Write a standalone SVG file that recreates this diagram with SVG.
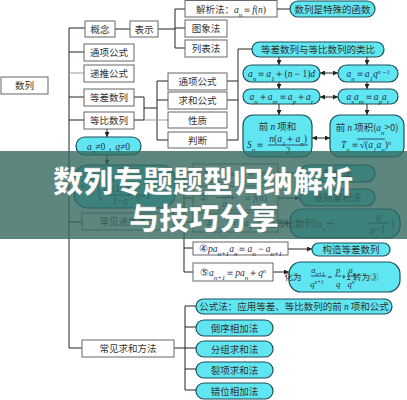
<svg xmlns="http://www.w3.org/2000/svg" width="407" height="400" viewBox="0 0 407 400">
<style>
.box{fill:#fff;stroke:#666;stroke-width:1}
.pill{fill:#60e6f0;stroke:#1d4f5a;stroke-width:1.2}
.ln{stroke:#222;stroke-width:1;fill:none}
.lg{stroke:#999;stroke-width:1;fill:none}
.t{font-family:"Noto Sans CJK SC","Noto Sans",sans-serif;font-size:9.5px;fill:#333;text-anchor:middle}
.s{font-size:8.5px}
.m{font-family:"Liberation Serif",serif;font-style:italic;fill:#1e2e55}
.r{font-family:"Liberation Serif",serif;font-style:normal}
.fl{stroke:#1e2e55;stroke-width:0.8}
.title{font-family:"Noto Sans CJK SC",sans-serif;font-weight:900;font-size:30px;fill:#fff;text-anchor:middle}
</style>
<defs>
<marker id="ah" viewBox="0 0 6 6" refX="6" refY="3" markerWidth="5" markerHeight="5" orient="auto-start-reverse"><path d="M0,0 L6,3 L0,6 z" fill="#222"/></marker>
</defs>
<rect width="407" height="400" fill="#fff"/>

<g id="connectors">
<path class="ln" d="M69,28 V348 M69,28 H85 M69,52 H84 M69,97 H84 M69,120 H84 M69,222 H82 M69,348 H82"/>
<path class="lg" d="M69,73 H84"/>
<path class="ln" d="M115,29 H130 M158,29 H175 M175,9 V48 M175,9 H185 M175,28 H185 M175,48 H185 M277,9 H290"/>
<path class="ln" d="M134,97 H144 V120 H134 M144,108 H157 M157,81 V140 M157,81 H168 M157,100 H168 M157,140 H168"/>
<path class="lg" d="M144,120 H168"/>
<path class="ln" d="M227,81 H238 M227,100 H238 M227,140 H238 M238,49 V140 M238,49 H252"/>
<path class="ln" marker-end="url(#ah)" d="M279,57 V65"/>
<path class="ln" marker-end="url(#ah)" d="M367,57 V65"/>
<path class="ln" marker-end="url(#ah)" d="M279,82 V89"/>
<path class="ln" marker-end="url(#ah)" d="M367,82 V89"/>
<path class="ln" marker-end="url(#ah)" d="M279,104 V115"/>
<path class="ln" marker-end="url(#ah)" d="M367,104 V115"/>
<path class="ln" marker-start="url(#ah)" marker-end="url(#ah)" d="M320,73 H338"/>
<path class="ln" marker-start="url(#ah)" marker-end="url(#ah)" d="M320,97 H338"/>
<path class="ln" marker-start="url(#ah)" marker-end="url(#ah)" d="M312,138 H330"/>
<path class="ln" marker-end="url(#ah)" d="M107,129 V137"/>
<path class="ln" marker-end="url(#ah)" d="M107,155 V165"/>
<path class="ln" d="M174,222 H184 M184,173 V272 M184,173 H193 M184,198 H193 M184,222 H193 M184,248 H193 M184,272 H193"/>
<path class="ln" marker-end="url(#ah)" d="M278,173 H300"/>
<path class="ln" marker-end="url(#ah)" d="M278,198 H300"/>
<path class="ln" marker-end="url(#ah)" d="M278,223 H290"/>
<path class="ln" marker-end="url(#ah)" d="M288,249 H312"/>
<path class="ln" marker-end="url(#ah)" d="M273,272 H289"/>
<path class="ln" d="M174,348 H185 M185,306 V390 M185,306 H196 M185,327 H196 M185,348 H196 M185,369 H196 M185,390 H196"/>
</g>

<g id="n-shulie"><rect class="box" x="1" y="77" width="47" height="17"/><text class="t" x="24.5" y="89">数列</text></g>
<g id="n-gainian"><rect class="box" x="85" y="21" width="30" height="16"/><text class="t" x="100" y="32.5">概念</text></g>
<g id="n-biaoshi"><rect class="box" x="130" y="21" width="28" height="16"/><text class="t" x="144" y="32.5">表示</text></g>
<g id="n-jiexi"><rect class="box" x="185" y="0.5" width="92" height="16.5"/><text class="t" x="231" y="12.5">解析法：<tspan class="m">a<tspan baseline-shift="sub" font-size="7">n</tspan></tspan><tspan class="r">＝</tspan><tspan class="m">f</tspan><tspan class="r">(</tspan><tspan class="m">n</tspan><tspan class="r">)</tspan></text></g>
<g id="n-hanshu"><rect class="pill" x="290" y="1" width="85" height="16" rx="8"/><text class="t" x="332.5" y="12.5">数列是特殊的函数</text></g>
<g id="n-tuxiang"><rect class="box" x="185" y="20" width="42" height="17"/><text class="t" x="206" y="32">图象法</text></g>
<g id="n-liebiao"><rect class="box" x="185" y="40" width="42" height="17"/><text class="t" x="206" y="52">列表法</text></g>
<g id="n-tongxiang"><rect class="box" x="84" y="44" width="50" height="17"/><text class="t" x="109" y="56">通项公式</text></g>
<g id="n-ditui"><rect class="box" x="84" y="65" width="50" height="17"/><text class="t" x="109" y="77">递推公式</text></g>
<g id="n-dengcha"><rect class="box" x="84" y="89" width="50" height="17"/><text class="t" x="109" y="101">等差数列</text></g>
<g id="n-dengbi"><rect class="box" x="84" y="112" width="50" height="17"/><text class="t" x="109" y="124">等比数列</text></g>
<g id="n-tongxiang2"><rect class="box" x="168" y="73" width="59" height="17"/><text class="t" x="197.5" y="85">通项公式</text></g>
<g id="n-qiuhe"><rect class="box" x="168" y="92" width="59" height="17"/><text class="t" x="197.5" y="104">求和公式</text></g>
<g id="n-xingzhi"><rect class="box" x="168" y="112" width="59" height="16"/><text class="t" x="197.5" y="123.5">性质</text></g>
<g id="n-panduan"><rect class="box" x="168" y="132" width="59" height="16"/><text class="t" x="197.5" y="143.5">判断</text></g>

<g id="n-leibi"><rect class="pill" x="252" y="42" width="132" height="15" rx="7.5"/><text class="t" x="318" y="53">等差数列与等比数列的类比</text></g>
<g id="n-an1"><rect class="pill" x="243" y="65" width="77" height="17" rx="8.5"/><text class="t m" x="281.5" y="77">a<tspan baseline-shift="sub" font-size="7">n</tspan><tspan class="r">＝</tspan>a<tspan baseline-shift="sub" font-size="7">1</tspan><tspan class="r">＋(</tspan>n<tspan class="r">－1)</tspan>d</text></g>
<g id="n-an2"><rect class="pill" x="338" y="65" width="60" height="17" rx="8.5"/><text class="t m" x="368" y="77">a<tspan baseline-shift="sub" font-size="7">n</tspan><tspan class="r">＝</tspan>a<tspan baseline-shift="sub" font-size="7">1</tspan>q<tspan baseline-shift="super" font-size="6">n－1</tspan></text></g>
<g id="n-xz1"><rect class="pill" x="243" y="89" width="77" height="15" rx="7.5"/><text class="t m" x="281.5" y="100">a<tspan baseline-shift="sub" font-size="7">n</tspan><tspan class="r">＋</tspan>a<tspan baseline-shift="sub" font-size="7">m</tspan><tspan class="r">＝</tspan>a<tspan baseline-shift="sub" font-size="7">p</tspan><tspan class="r">＋</tspan>a<tspan baseline-shift="sub" font-size="7">r</tspan></text></g>
<g id="n-xz2"><rect class="pill" x="338" y="89" width="60" height="15" rx="7.5"/><text class="t m" x="368" y="100">a<tspan baseline-shift="sub" font-size="7">s</tspan>a<tspan baseline-shift="sub" font-size="7">m</tspan><tspan class="r">＝</tspan>a<tspan baseline-shift="sub" font-size="7">p</tspan>a<tspan baseline-shift="sub" font-size="7">r</tspan></text></g>
<g id="n-qianhe"><rect class="pill" x="243" y="115" width="69" height="42" rx="10"/>
<text class="t" x="277.5" y="130">前 <tspan class="m">n</tspan> 项和</text>
<text class="t m" x="256" y="148">S<tspan baseline-shift="sub" font-size="7">n</tspan><tspan class="r">＝</tspan></text>
<text class="t m" x="288" y="142">n<tspan class="r">(</tspan>a<tspan baseline-shift="sub" font-size="7">1</tspan><tspan class="r">＋</tspan>a<tspan baseline-shift="sub" font-size="7">n</tspan><tspan class="r">)</tspan></text>
<line class="fl" x1="268" y1="145" x2="308" y2="145"/>
<text class="t r" x="288" y="154">2</text></g>
<g id="n-qianji"><rect class="pill" x="330" y="115" width="74" height="42" rx="10"/>
<text class="t" x="367" y="131">前 <tspan class="m">n</tspan> 项积(<tspan class="m">a<tspan baseline-shift="sub" font-size="7">n</tspan></tspan>&gt;0)</text>
<text class="t m" x="366" y="148">T<tspan baseline-shift="sub" font-size="7">n</tspan><tspan class="r">＝√(</tspan>a<tspan baseline-shift="sub" font-size="7">1</tspan>a<tspan baseline-shift="sub" font-size="7">n</tspan><tspan class="r">)</tspan><tspan baseline-shift="super" font-size="6">n</tspan></text>
<line class="fl" x1="357" y1="139" x2="385" y2="139"/></g>

<g id="n-tiaojian"><rect class="pill" x="76" y="137" width="65" height="18" rx="9"/><text class="t m" x="108.5" y="149.5">a<tspan baseline-shift="sub" font-size="7">n</tspan><tspan class="r">≠0，</tspan>q<tspan class="r">≠0</tspan></text></g>
<g id="n-sn"><rect class="pill" x="74" y="165" width="101" height="43" rx="14"/>
<text class="t m" x="79" y="190" text-anchor="start">S<tspan baseline-shift="sub" font-size="7">n</tspan><tspan class="r">=</tspan></text>
<path class="fl" fill="none" d="M102,174 Q99,174 99,178 V183 Q99,186 96,186.5 Q99,187 99,190 V196 Q99,200 102,200"/>
<text class="t m" x="106" y="180" text-anchor="start">na<tspan baseline-shift="sub" font-size="7">1</tspan><tspan class="r">，</tspan>q<tspan class="r">=1</tspan></text>
<text class="t m" x="120" y="192">a<tspan baseline-shift="sub" font-size="7">1</tspan><tspan class="r">(1−</tspan>q<tspan baseline-shift="super" font-size="6">n</tspan><tspan class="r">)</tspan></text>
<line class="fl" x1="105" y1="195" x2="135" y2="195"/>
<text class="t m" x="120" y="204"><tspan class="r">1−</tspan>q</text>
<text class="t m" x="138" y="199" text-anchor="start"><tspan class="r">，</tspan>q<tspan class="r">≠1</tspan></text></g>

<g id="n-dituileixing"><rect class="box" x="82" y="213" width="92" height="17"/><text class="t" x="128" y="225">常见递推类型</text></g>
<g id="n-r1"><rect class="box" x="193" y="164" width="85" height="18"/><text class="t m" x="235.5" y="176.5"><tspan class="r">①</tspan>a<tspan baseline-shift="sub" font-size="7">n+1</tspan><tspan class="r">＝</tspan>a<tspan baseline-shift="sub" font-size="7">n</tspan><tspan class="r">＋</tspan>f<tspan class="r">(</tspan>n<tspan class="r">)</tspan></text></g>
<g id="n-leijia"><rect class="pill" x="300" y="165" width="75" height="17" rx="8.5"/><text class="t" x="337.5" y="177">累加法</text></g>
<g id="n-r2"><rect class="box" x="193" y="186" width="85" height="24"/>
<text class="t r" x="203" y="201">②</text>
<text class="t m" x="226" y="195">a<tspan baseline-shift="sub" font-size="7">n+1</tspan></text>
<line class="fl" x1="216" y1="197.5" x2="236" y2="197.5"/>
<text class="t m" x="226" y="207">a<tspan baseline-shift="sub" font-size="7">n</tspan></text>
<text class="t m" x="255" y="201"><tspan class="r">＝</tspan>f<tspan class="r">(</tspan>n<tspan class="r">)</tspan></text></g>
<g id="n-zhushang"><rect class="pill" x="300" y="189" width="75" height="17" rx="8.5"/><text class="t" x="337.5" y="201">逐商累积法</text></g>
<g id="n-r3"><rect class="box" x="193" y="213" width="85" height="19"/><text class="t m" x="235.5" y="226"><tspan class="r">③</tspan>a<tspan baseline-shift="sub" font-size="7">n+1</tspan><tspan class="r">＝</tspan>pa<tspan baseline-shift="sub" font-size="7">n</tspan><tspan class="r">＋</tspan>q</text></g>
<g id="n-dengbigouzao"><rect class="pill" x="290" y="209" width="110" height="29" rx="12"/>
<text class="t" x="296" y="227" text-anchor="start">构造等比数列{<tspan class="m">a<tspan baseline-shift="sub" font-size="7">n</tspan></tspan>＋</text>
<text class="t m" x="378" y="220">q</text>
<line class="fl" x1="368" y1="223" x2="389" y2="223"/>
<text class="t m" x="378" y="233">p<tspan class="r">−1</tspan></text>
<text class="t r" x="393" y="227">}</text></g>
<g id="n-r4"><rect class="box" x="193" y="242" width="95" height="13"/><text class="t m" x="240.5" y="252"><tspan class="r">④</tspan>pa<tspan baseline-shift="sub" font-size="7">n+1</tspan>a<tspan baseline-shift="sub" font-size="7">n</tspan><tspan class="r">＝</tspan>a<tspan baseline-shift="sub" font-size="7">n</tspan><tspan class="r">－</tspan>a<tspan baseline-shift="sub" font-size="7">n+1</tspan></text></g>
<g id="n-dengchagouzao"><rect class="pill" x="312" y="243" width="78" height="13" rx="6.5"/><text class="t" x="351" y="253">构造等差数列</text></g>
<g id="n-r5"><rect class="box" x="193" y="263" width="80" height="18"/><text class="t m" x="233" y="275.5"><tspan class="r">⑤</tspan>a<tspan baseline-shift="sub" font-size="7">n+1</tspan><tspan class="r">＝</tspan>pa<tspan baseline-shift="sub" font-size="7">n</tspan><tspan class="r">＋</tspan>q<tspan baseline-shift="super" font-size="6">n</tspan></text></g>
<g id="n-huawei"><rect class="pill" x="289" y="262" width="111" height="30" rx="12"/>
<text class="t s" x="293" y="280" text-anchor="start">化为</text>
<text class="t s m" x="318" y="273">a<tspan baseline-shift="sub" font-size="5.5">n+1</tspan></text>
<line class="fl" x1="311" y1="276" x2="326" y2="276"/>
<text class="t s m" x="317" y="287">q<tspan baseline-shift="super" font-size="5.5">n+1</tspan></text>
<text class="t s r" x="330" y="280">=</text>
<text class="t s m" x="338" y="273">p</text>
<line class="fl" x1="335" y1="276" x2="341" y2="276"/>
<text class="t s m" x="338" y="287">q</text>
<text class="t s r" x="344" y="280">·</text>
<text class="t s m" x="352" y="273">a<tspan baseline-shift="sub" font-size="5.5">n</tspan></text>
<line class="fl" x1="347" y1="276" x2="357" y2="276"/>
<text class="t s m" x="351" y="287">q<tspan baseline-shift="super" font-size="5.5">n</tspan></text>
<text class="t s" x="360" y="280" text-anchor="start">+1 转为③</text></g>

<g id="n-qiuhefangfa"><rect class="box" x="82" y="340" width="92" height="17"/><text class="t" x="128" y="352">常见求和方法</text></g>
<g id="n-gongshi"><rect class="pill" x="196" y="299" width="196" height="15" rx="7.5"/><text class="t" x="294" y="310">公式法：应用等差、等比数列的前 <tspan class="m">n</tspan> 项和公式</text></g>
<g id="n-daoxu"><rect class="pill" x="196" y="320" width="77" height="16" rx="8"/><text class="t" x="234.5" y="331.5">倒序相加法</text></g>
<g id="n-fenzu"><rect class="pill" x="196" y="341" width="77" height="16" rx="8"/><text class="t" x="234.5" y="352.5">分组求和法</text></g>
<g id="n-liexiang"><rect class="pill" x="196" y="362" width="77" height="16" rx="8"/><text class="t" x="234.5" y="373.5">裂项求和法</text></g>
<g id="n-cuowei"><rect class="pill" x="196" y="383" width="77" height="16" rx="8"/><text class="t" x="234.5" y="394.5">错位相加法</text></g>

<g id="banner">
<rect x="0" y="151" width="407" height="88" fill="#34685f" fill-opacity="0.8"/>
<text class="title" x="203" y="192" stroke="#2a4f49" stroke-width="0.6" stroke-opacity="0.5">数列专题题型归纳解析</text>
<text class="title" x="204" y="229" stroke="#2a4f49" stroke-width="0.6" stroke-opacity="0.5">与技巧分享</text>
</g>
</svg>
